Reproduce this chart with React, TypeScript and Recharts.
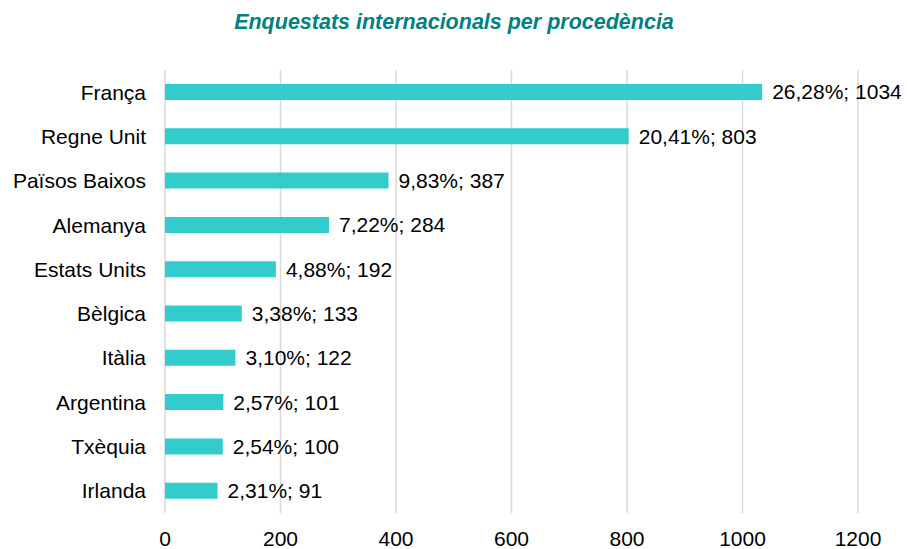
import { BarChart, Bar, XAxis, YAxis, CartesianGrid, LabelList } from "recharts";

const countries = [
  "França",
  "Regne Unit",
  "Països Baixos",
  "Alemanya",
  "Estats Units",
  "Bèlgica",
  "Itàlia",
  "Argentina",
  "Txèquia",
  "Irlanda",
];
const counts = [1034, 803, 387, 284, 192, 133, 122, 101, 100, 91];
const shares = [26.28, 20.41, 9.83, 7.22, 4.88, 3.38, 3.1, 2.57, 2.54, 2.31];
const xTicks = [0, 200, 400, 600, 800, 1000, 1200];

const FONT = "'Liberation Sans', Arial, sans-serif";
const BAR_COLOR = "#33CCCC";

const data = countries.map((name, i) => ({
  name,
  value: counts[i],
  label: `${shares[i].toFixed(2).replace(".", ",")}%; ${counts[i]}`,
}));

export default function App() {
  return (
    <div style={{ position: "absolute", left: 0, top: 0, width: 908, height: 549, background: "#fff", fontFamily: FONT }}>
      <div
        style={{
          position: "absolute",
          top: 9,
          left: 0,
          width: 908,
          textAlign: "center",
          color: "#008080",
          fontSize: 21.5,
          fontWeight: "bold",
          fontStyle: "italic",
          lineHeight: "26px",
        }}
      >
        Enquestats internacionals per procedència
      </div>
      <BarChart
        width={908}
        height={549}
        data={data}
        layout="vertical"
        margin={{ top: 70, right: 50, left: 0, bottom: 0 }}
      >
        <CartesianGrid horizontal={false} stroke="#d9d9d9" strokeWidth={1.5} />
        <XAxis
          type="number"
          domain={[0, 1200]}
          ticks={xTicks}
          axisLine={false}
          tickLine={false}
          tickSize={0}
          tickMargin={18}
          height={36}
          tick={{ fill: "#000", fontSize: 21, fontFamily: FONT }}
        />
        <YAxis
          type="category"
          dataKey="name"
          width={165}
          axisLine={false}
          tickLine={false}
          tickSize={0}
          tickMargin={19}
          tick={{ fill: "#000", fontSize: 21, fontFamily: FONT }}
        />
        <Bar dataKey="value" fill={BAR_COLOR} barSize={16} isAnimationActive={false}>
          <LabelList
            dataKey="label"
            position="right"
            offset={10}
            style={{ fill: "#000", fontSize: 21, fontFamily: FONT }}
          />
        </Bar>
      </BarChart>
    </div>
  );
}
